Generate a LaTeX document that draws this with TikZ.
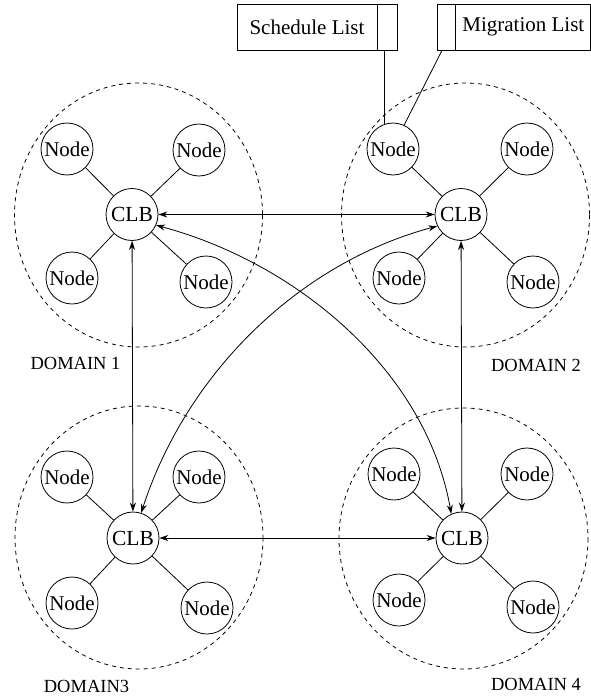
\documentclass[tikz,border=0pt]{standalone}
\usepackage{fontspec}
\setmainfont{Liberation Serif}
\usetikzlibrary{arrows.meta}
\begin{document}
\begin{tikzpicture}[x=1pt,y=-1pt,
  every path/.style={line width=0.8pt},
  nd/.style={circle,draw,minimum size=52pt,inner sep=0pt,font=\fontsize{21}{24}\selectfont},
  clb/.style={circle,draw,minimum size=52pt,inner sep=0pt,font=\fontsize{21.5}{24}\selectfont},
  dom/.style={draw,dashed,dash pattern=on 4pt off 4pt},
  lbl/.style={font=\fontsize{18.5}{22}\selectfont,inner sep=0pt},
  lnk/.style={{Stealth[length=9pt,width=6pt]}-{Stealth[length=9pt,width=6pt]}},
  listbox/.style={draw,minimum height=46pt,inner sep=0pt,font=\fontsize{21}{24}\selectfont}]
\useasboundingbox (0,0) rectangle (591,696);
% domains
\draw[dom] (138.5,215) ellipse [x radius=124, y radius=132];
\draw[dom] (465.5,215) ellipse [x radius=124, y radius=132];
\draw[dom] (139,537.5) ellipse [x radius=124, y radius=131.5];
\draw[dom] (463.5,538.5) ellipse [x radius=124.5, y radius=130.5];
% CLBs
\node[clb] (c1) at (132,214.5) {CLB};
\node[clb] (c2) at (461,214.5) {CLB};
\node[clb] (c3) at (133,538) {CLB};
\node[clb] (c4) at (462,538) {CLB};
% domain 1 nodes
\node[nd] (a1) at (67,149) {Node};
\node[nd] (a2) at (199,150) {Node};
\node[nd] (a3) at (72,278) {Node};
\node[nd] (a4) at (206,282) {Node};
% domain 2 nodes
\node[nd] (b1) at (393,149) {Node};
\node[nd] (b2) at (527,149) {Node};
\node[nd] (b3) at (399,278) {Node};
\node[nd] (b4) at (533,282) {Node};
% domain 3 nodes
\node[nd] (d1) at (67,477) {Node};
\node[nd] (d2) at (199,477) {Node};
\node[nd] (d3) at (72,603) {Node};
\node[nd] (d4) at (207,608) {Node};
% domain 4 nodes
\node[nd] (e1) at (394,474) {Node};
\node[nd] (e2) at (527,474) {Node};
\node[nd] (e3) at (399,600) {Node};
\node[nd] (e4) at (533,607) {Node};
% spokes
\foreach \c/\n in {c1/a1,c1/a2,c1/a3,c1/a4,c2/b1,c2/b2,c2/b3,c2/b4,c3/d1,c3/d2,c3/d3,c3/d4,c4/e1,c4/e2,c4/e3,c4/e4}
  \draw (\c) -- (\n);
% labels
\node[lbl] (l1) at (75.5,363) {DOMAIN 1};
\node[lbl] (l2) at (536,365) {DOMAIN 2};
\node[lbl] (l3) at (86.5,686) {DOMAIN3};
\node[lbl] (l4) at (536,684) {DOMAIN 4};
% lists
\node[listbox,minimum width=140pt] (s1) at (307,27) {Schedule List};
\node[listbox,minimum width=20pt,anchor=west] (s2) at (s1.east) {};
\node[listbox,minimum width=18pt] (m1) at (446,27) {};
\node[listbox,minimum width=135pt,anchor=west] (m2) at (m1.east) {Migration List};
\coordinate (sp) at ([xshift=-3pt]s2.south);
\coordinate (mp) at ([xshift=-4pt]m1.south);
\draw (sp) -- (sp |- b1.110);
\draw (mp) -- (b1.65);
% links
\draw[lnk] (c1) -- (c2);
\draw[lnk] (c1) -- (c3);
\draw[lnk] (c3) -- (c4);
\draw[lnk] (c2) -- (c4);
\draw[lnk] (c1.-24) to[out=-15,in=100,looseness=0.9] (c4.114);
\draw[lnk] (c2.206) to[out=195,in=72,looseness=0.9] (c3.72);
\end{tikzpicture}
\end{document}
